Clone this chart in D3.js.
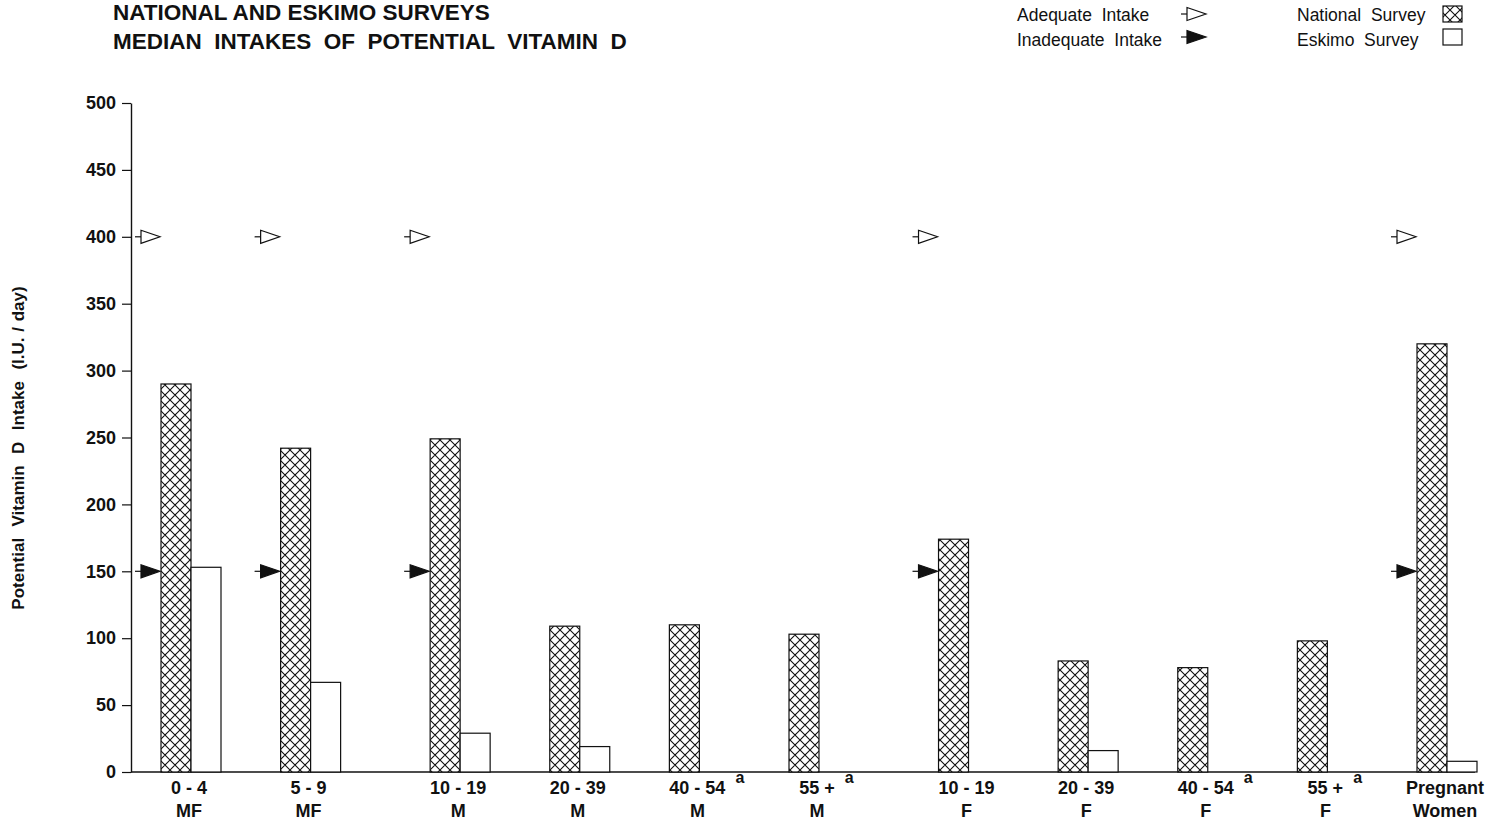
<!DOCTYPE html>
<html>
<head>
<meta charset="utf-8">
<script src="https://cdn.jsdelivr.net/npm/d3@7"></script>
<style>
  html, body { margin: 0; padding: 0; background: #fff; }
  svg { display: block; font-family: "Liberation Sans", Arial, Helvetica, sans-serif; }
</style>
</head>
<body>
<svg id="chart" width="1495" height="824"></svg>
<script>
// ---- data ----
const ageGroups = ["0-4", "5-9", "10-19", "20-39", "40-54", "55+", "10-19", "20-39", "40-54", "55+", "Pregnant"];
const sexGroups = ["MF", "MF", "M", "M", "M", "M", "F", "F", "F", "F", "Women"];
const footnotes = ["", "", "", "", "a", "a", "", "", "a", "a", ""];
const nationalSurvey = [290, 242, 249, 109, 110, 103, 174, 83, 78, 98, 320];
const eskimoSurvey = [153, 67, 29, 19, null, null, null, 16, null, null, 8];
const adequateIntake = [400, 400, 400, null, null, null, 400, null, null, null, 400];
const inadequateIntake = [150, 150, 150, null, null, null, 150, null, null, null, 150];
const yTicks = [0, 50, 100, 150, 200, 250, 300, 350, 400, 450, 500];
const titleLines = ["NATIONAL AND ESKIMO SURVEYS", "MEDIAN  INTAKES  OF  POTENTIAL  VITAMIN  D"];
const yAxisTitle = "Potential  Vitamin  D  Intake  (I.U. / day)";

// ---- layout ----
const svg = d3.select("#chart");
const gapBefore = new Set([2, 6]);
let s = 0;
const slots = ageGroups.map((d, i) => { if (i > 0) s += gapBefore.has(i) ? 1.25 : 1; return s; });
const x = d3.scaleLinear().domain([0, slots[slots.length - 1]]).range([191, 1447]);
const y = d3.scaleLinear().domain([0, 500]).range([772, 103]);
const barW = 30;

// hatch pattern
const defs = svg.append("defs");
const pat = defs.append("pattern").attr("id", "hatch").attr("patternUnits", "userSpaceOnUse")
  .attr("width", 10).attr("height", 10);
pat.append("rect").attr("width", 10).attr("height", 10).attr("fill", "#fff");
pat.append("path").attr("d", "M-1,-1 L11,11 M11,-1 L-1,11 M-6,4 L6,16 M4,-6 L16,6 M4,16 L16,4 M-6,6 L6,-6")
  .attr("stroke", "#111").attr("stroke-width", 1.1).attr("fill", "none");

// titles
svg.append("text").attr("x", 113).attr("y", 20).attr("font-size", 22.5).attr("font-weight", "bold")
  .attr("fill", "#111").style("white-space", "pre").text(titleLines[0]);
svg.append("text").attr("x", 113).attr("y", 49).attr("font-size", 22.5).attr("font-weight", "bold")
  .attr("word-spacing", 0).attr("fill", "#111").style("white-space", "pre").text(titleLines[1]);

// y axis
const yAxis = d3.axisLeft(y).tickValues(yTicks).tickSize(9).tickSizeOuter(0).tickPadding(6);
const gy = svg.append("g").attr("transform", "translate(131,0)").call(yAxis);
gy.select(".domain").attr("stroke", "#111").attr("stroke-width", 1.4);
gy.selectAll(".tick line").attr("stroke", "#111").attr("stroke-width", 1.2);
gy.selectAll(".tick text").attr("font-size", 18).attr("font-weight", "bold").attr("fill", "#111")
  .attr("font-family", "'Liberation Sans', Arial, sans-serif");

// y title
svg.append("text").attr("transform", "translate(24,448) rotate(-90)").attr("text-anchor", "middle")
  .attr("font-size", 17).attr("font-weight", "bold").attr("fill", "#111").attr("word-spacing", 1)
  .style("white-space", "pre").text(yAxisTitle);

// baseline
svg.append("line").attr("x1", 131).attr("x2", x(slots[slots.length - 1]) + barW - 2)
  .attr("y1", y(0)).attr("y2", y(0)).attr("stroke", "#111").attr("stroke-width", 1.5);

// bars
const g = svg.append("g");
g.selectAll("rect.nat").data(nationalSurvey).join("rect").attr("class", "nat")
  .attr("x", (d, i) => x(slots[i]) - barW).attr("y", d => y(d))
  .attr("width", barW).attr("height", d => y(0) - y(d))
  .attr("fill", "url(#hatch)").attr("stroke", "#111").attr("stroke-width", 1.2);
g.selectAll("rect.esk").data(eskimoSurvey.map((v, i) => ({ v, i })).filter(d => d.v != null)).join("rect")
  .attr("class", "esk")
  .attr("x", d => x(slots[d.i])).attr("y", d => y(d.v))
  .attr("width", barW).attr("height", d => y(0) - y(d.v))
  .attr("fill", "#fff").attr("stroke", "#111").attr("stroke-width", 1.2);

// markers
function marker(sel, tipX, cy, filled) {
  sel.append("line").attr("x1", tipX - 25).attr("x2", tipX - 18).attr("y1", cy).attr("y2", cy)
    .attr("stroke", "#111").attr("stroke-width", 1.2);
  sel.append("path")
    .attr("d", `M${tipX - 19},${cy - 6.5} L${tipX},${cy} L${tipX - 19},${cy + 6.5} Z`)
    .attr("fill", filled ? "#111" : "#fff").attr("stroke", "#111").attr("stroke-width", 1.2);
}
adequateIntake.forEach((v, i) => { if (v != null) marker(svg, x(slots[i]) - barW - 1, y(v), false); });
inadequateIntake.forEach((v, i) => { if (v != null) marker(svg, x(slots[i]) - barW - 1, y(v), true); });

// x labels
const lab = svg.append("g").attr("font-weight", "bold").attr("fill", "#111");
ageGroups.forEach((a, i) => {
  const cx = x(slots[i]) - 2;
  const txt = a.replace("-", " - ").replace("+", " +");
  const t = lab.append("text").attr("x", cx).attr("y", 794).attr("text-anchor", "middle")
    .attr("font-size", 18).style("white-space", "pre").text(txt);
  lab.append("text").attr("x", cx).attr("y", 817).attr("text-anchor", "middle")
    .attr("font-size", 18).text(sexGroups[i]);
  if (footnotes[i]) {
    const w = t.node().getComputedTextLength();
    lab.append("text").attr("x", cx + w / 2 + 10).attr("y", 783).attr("font-size", 16).text(footnotes[i]);
  }
});

// legend
const leg = svg.append("g").attr("font-size", 17.5).attr("fill", "#111");
leg.append("text").attr("x", 1017).attr("y", 21).style("white-space", "pre").text("Adequate  Intake");
leg.append("text").attr("x", 1017).attr("y", 46).style("white-space", "pre").text("Inadequate  Intake");
marker(leg, 1206, 14, false);
marker(leg, 1206, 37, true);
leg.append("text").attr("x", 1297).attr("y", 21).style("white-space", "pre").text("National  Survey");
leg.append("text").attr("x", 1297).attr("y", 46).style("white-space", "pre").text("Eskimo  Survey");
leg.append("rect").attr("x", 1443).attr("y", 6).attr("width", 19).attr("height", 16)
  .attr("fill", "url(#hatch)").attr("stroke", "#111").attr("stroke-width", 1.2);
leg.append("rect").attr("x", 1443).attr("y", 29).attr("width", 19).attr("height", 16)
  .attr("fill", "#fff").attr("stroke", "#111").attr("stroke-width", 1.2);
</script>
</body>
</html>
